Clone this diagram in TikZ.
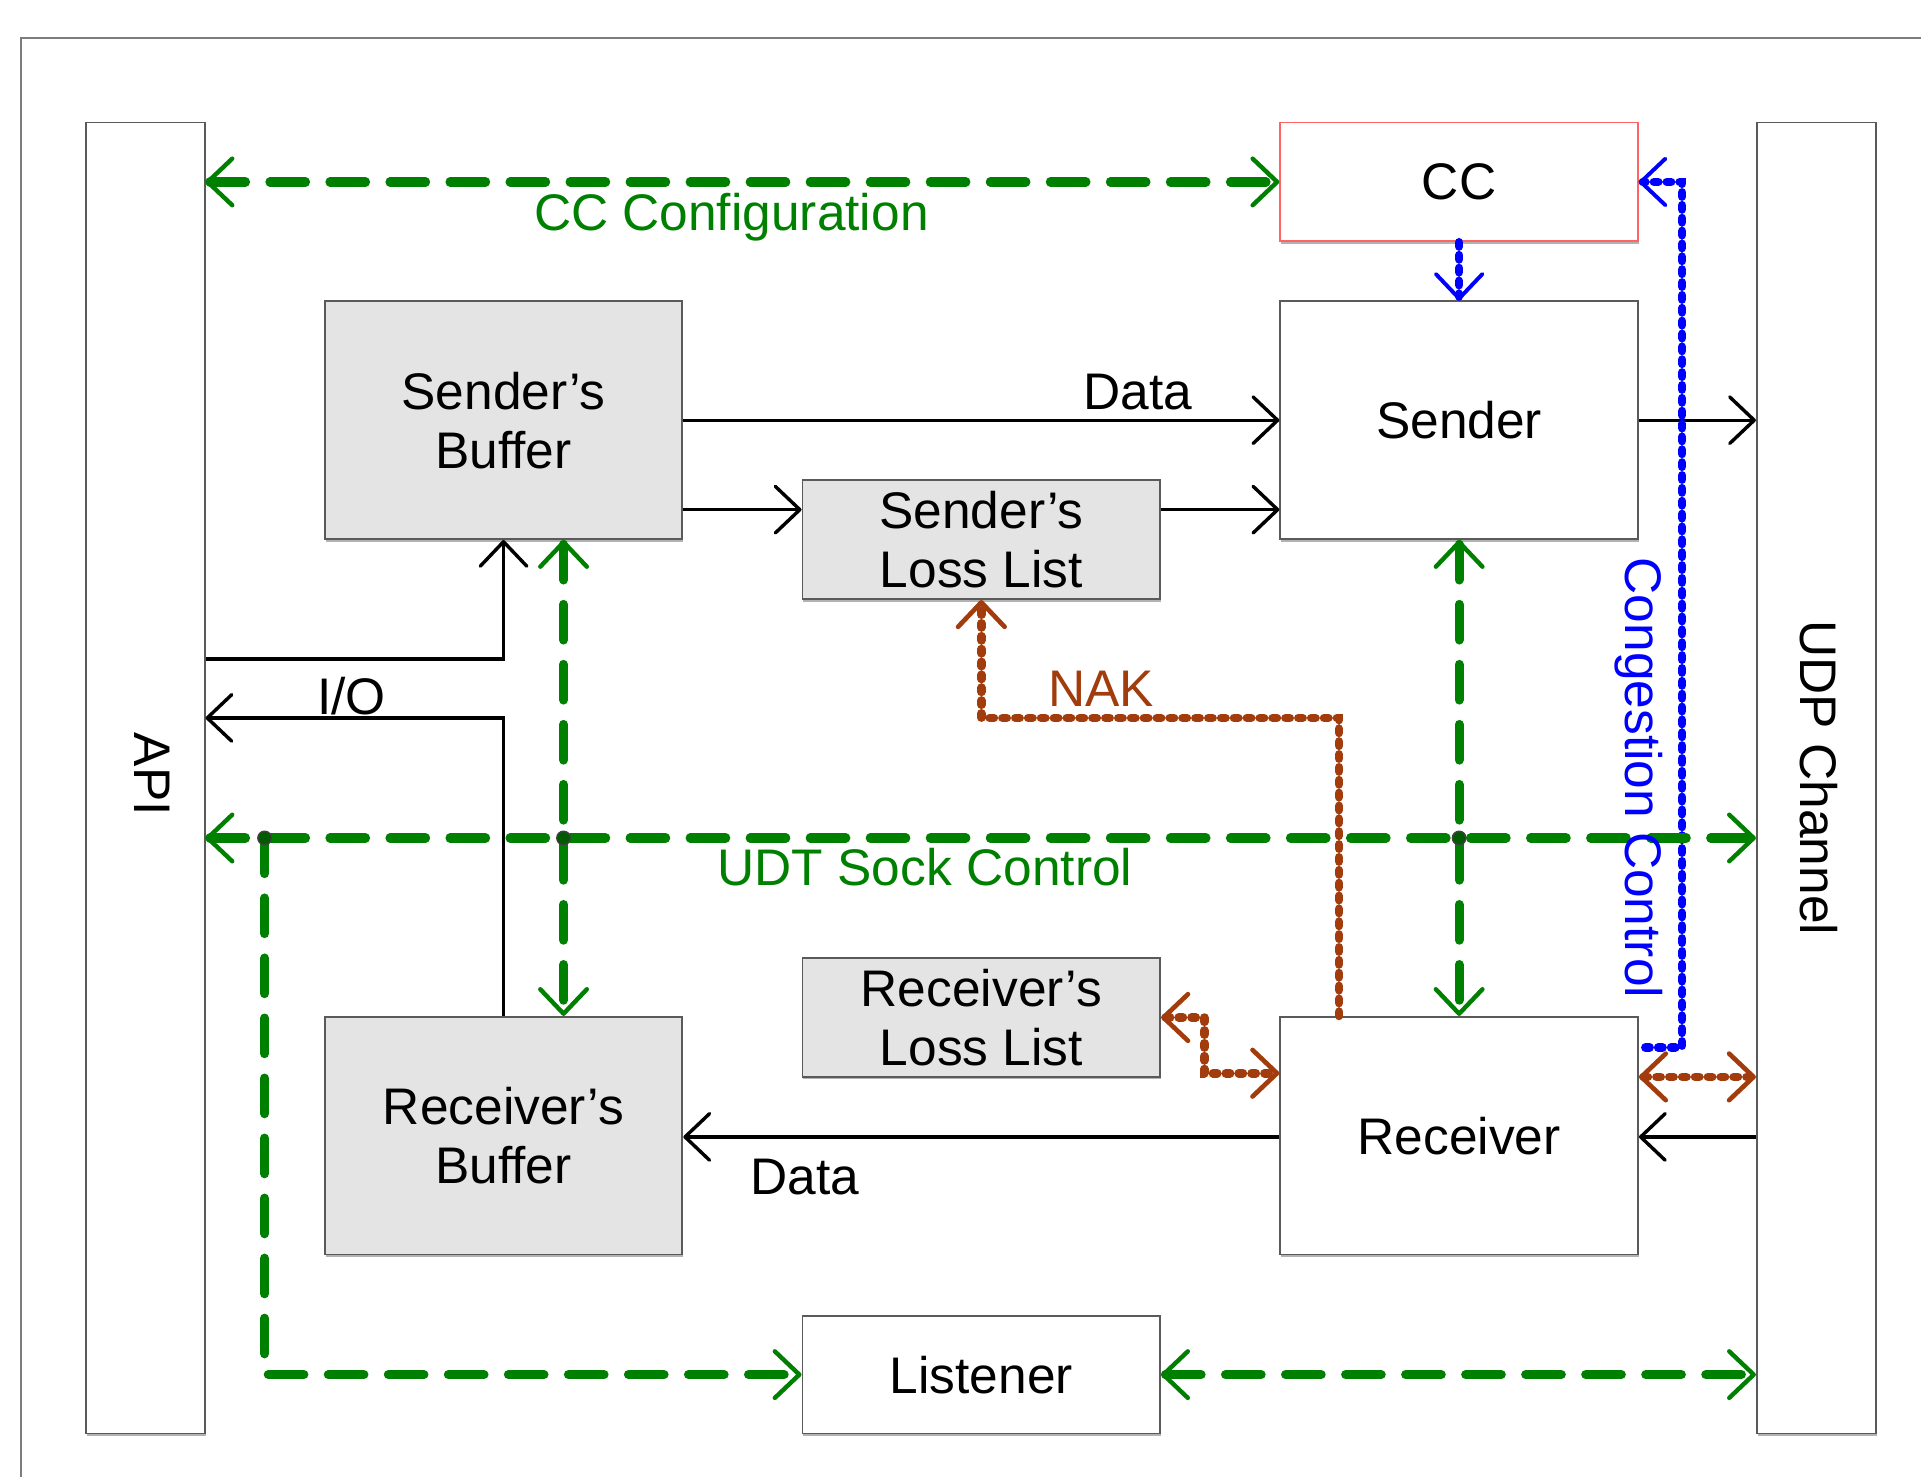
\documentclass[tikz,border=0pt]{standalone}
\usepackage{fontspec}
\setmainfont{Liberation Sans}
\usetikzlibrary{arrows.meta,calc,shadows}

\definecolor{ctlgreen}{RGB}{0,128,0}
\definecolor{nakbrown}{RGB}{163,60,12}
\definecolor{boxfill}{RGB}{228,228,228}
\definecolor{edgegray}{RGB}{90,90,90}
\definecolor{ccred}{RGB}{255,100,100}
\definecolor{framegray}{RGB}{125,125,125}

\newcommand\diagfont{\fontsize{42}{48}\selectfont}

\tikzset{
  block/.style={draw=edgegray, line width=1.5pt, fill=white, inner sep=0pt,
    minimum width=292pt, minimum height=194pt, align=center, font=\diagfont,
    drop shadow={shadow xshift=0.8pt, shadow yshift=-2pt, opacity=0.55, fill=black!55}},
  halfblock/.style={block, minimum height=97pt},
  shaded/.style={fill=boxfill},
  sidebar/.style={block, minimum width=97pt, minimum height=1070pt},
  sidelabel/.style={font=\diagfont, rotate=-90, inner sep=0pt},
  label/.style={font=\diagfont, inner sep=0pt, anchor=base},
  barbtip/.style={>={Straight Barb[round,length=20pt,width=38pt,line width=#1]}},
  dataflow/.style={draw=black, line width=2.8pt, barbtip=2.8pt, ->},
  ctlflow/.style={draw=ctlgreen, line width=7.5pt, line cap=round,
    dash pattern=on 29pt off 20pt, barbtip=3.6pt},
  nakflow/.style={draw=nakbrown, line width=7pt, line cap=round,
    dash pattern=on 3.5pt off 7pt, barbtip=3.8pt},
  ccflow/.style={draw=blue, line width=7pt, line cap=round,
    dash pattern=on 3.5pt off 7pt, barbtip=3.2pt},
  junction/.style={fill=ctlgreen!70!black, draw=black!75, line width=1.2pt},
}

\begin{document}
\begin{tikzpicture}[x=1pt, y=-1pt]
\useasboundingbox (0,0) rectangle (1568,1205);
\fill[white] (0,0) rectangle (1568,1205);

% page frame
\draw[framegray, line width=2pt] (17,1215) -- (17,31) -- (1580,31);

% side bars
\node[sidebar] (api) at (118.5,635) {};
\node[sidebar] (udp) at (1482.5,635) {};
\node[sidelabel] (apitext) at (124,632) {API};
\node[sidelabel] (udptext) at (1485,635) {UDP Channel};

% blocks
\node[halfblock, draw=ccred, drop shadow={opacity=0}] (cc) at (1191,148.5) {CC};
\node[block, shaded] (sbuf) at (411,343) {Sender’s\\Buffer};
\node[block] (sender) at (1191,343) {Sender};
\node[halfblock, shaded] (sll) at (801,440.5) {Sender’s\\Loss List};
\node[halfblock, shaded] (rll) at (801,830.5) {Receiver’s\\Loss List};
\node[block, shaded] (rbuf) at (411,927) {Receiver’s\\Buffer};
\node[block] (receiver) at (1191,927) {Receiver};
\node[halfblock, minimum height=96pt] (listener) at (801,1122) {Listener};

% helper rows and columns
\coordinate (r416) at (0,416);
\coordinate (r538) at (0,538);
\coordinate (r586) at (0,586);
\coordinate (r684) at (0,684);
\coordinate (r879) at (0,879);
\coordinate (r928) at (0,928);
\coordinate (c460) at (460,0);
\coordinate (j1) at (216,684);
\coordinate (j2) at (460,684);
\coordinate (j3) at (1191,684);
\coordinate (nakbend) at (1093,586);
\coordinate (rlbend) at (983,876);
\coordinate (cgbend) at (1373,855);
\coordinate (cgstart) at (1343,855);

% data paths
\draw[dataflow] (sbuf.east) -- (sender.west);
\draw[dataflow] (sbuf.east |- r416) -- (sll.west |- r416);
\draw[dataflow] (sll.east |- r416) -- (sender.west |- r416);
\draw[dataflow] (sender.east) -- (udp.west |- sender.east);
\draw[dataflow] (api.east |- r538) -| (sbuf.south);
\draw[dataflow] (rbuf.north) |- (api.east |- r586);
\draw[dataflow] (udp.west |- r928) -- (receiver.east |- r928);
\draw[dataflow] (receiver.west |- r928) -- (rbuf.east |- r928);

% loss reports
\draw[nakflow, ->] (receiver.north -| nakbend) -- (nakbend) -| (sll.south);
\draw[nakflow, <->] (rll.east) -- (rll.east -| rlbend) -- (rlbend) -- (receiver.west |- rlbend);
\draw[nakflow, <->] (receiver.east |- r879) -- (udp.west |- r879);

% congestion control
\draw[ccflow, ->] (cc.south) -- (sender.north);
\draw[ccflow, ->] (cgstart) -- (cgbend) -- (cgbend |- cc.east) -- (cc.east);

% control paths
\draw[ctlflow, <->] (api.east |- cc.west) -- (cc.west);
\draw[ctlflow, <->] (sbuf.south -| c460) -- (rbuf.north -| c460);
\draw[ctlflow, <->] (sender.south) -- (receiver.north);
\draw[ctlflow, <->] (api.east |- r684) -- (udp.west |- r684);
\draw[ctlflow, ->] (j1) |- (listener.west);
\draw[ctlflow, <->] (listener.east) -- (udp.west |- listener.east);
\foreach \j in {j1,j2,j3} \filldraw[junction] (\j) circle (5.5pt);

% labels
\node[label, ctlgreen] (cclbl) at (597,188) {CC Configuration};
\node[label] (datatop) at (929,334) {Data};
\node[label] (iolbl) at (287,583) {I/O};
\node[label, nakbrown] (naklbl) at (899,577) {NAK};
\node[label, ctlgreen] (udtlbl) at (755,723) {UDT Sock Control};
\node[label] (databot) at (657,975) {Data};
\node[sidelabel, blue] (cglbl) at (1338,635) {Congestion Control};
\end{tikzpicture}
\end{document}
